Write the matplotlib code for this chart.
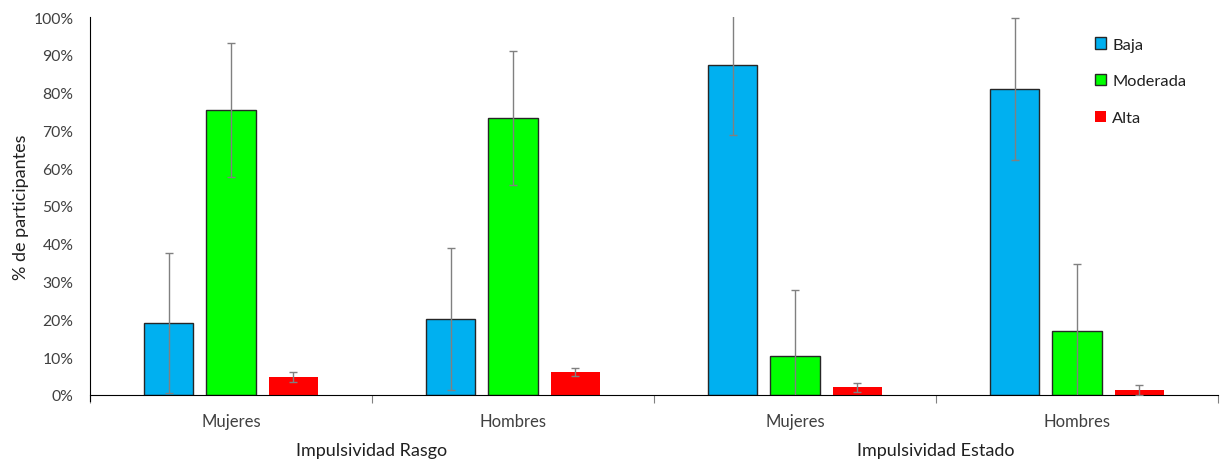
import numpy as np
import matplotlib.pyplot as plt

plt.rcParams['font.family'] = ['Lato', 'DejaVu Sans']

# groups along the x axis
groups = ["Mujeres", "Hombres", "Mujeres", "Hombres"]
blocks = ["Impulsividad Rasgo", "Impulsividad Estado"]
levels = ["Baja", "Moderada", "Alta"]

# percentages per level and their error (SD)
baja = [19.0, 20.1, 87.4, 81.0]
moderada = [75.4, 73.3, 10.3, 17.0]
alta = [4.8, 6.1, 2.0, 1.4]
baja_err = [18.6, 18.8, 18.6, 18.8]
moderada_err = [17.7, 17.7, 17.5, 17.6]
alta_err = [1.3, 1.1, 1.3, 1.3]

colors = ['#00B0F0', '#00FF00', '#FF0000']
edges = ['#262626', '#262626', 'none']

fig = plt.figure(figsize=(12.2, 4.6), dpi=100)
ax = fig.add_axes([90 / 1220, 64 / 460, 1128 / 1220, 378 / 460])

x = np.arange(len(groups))
width = 0.174
offset = 0.22

series = [(baja, baja_err), (moderada, moderada_err), (alta, alta_err)]
for i, (vals, errs) in enumerate(series):
    pos = x + (i - 1) * offset
    ax.bar(pos, vals, width, color=colors[i], edgecolor=edges[i],
           linewidth=1.0, label=levels[i], zorder=2)
    ax.errorbar(pos, vals, yerr=errs, fmt='none', ecolor='#808080',
                elinewidth=1.0, capsize=3, capthick=1.0, zorder=3)

# === AXES ===
ax.set_ylim(0, 100)
ax.set_xlim(-0.5, 3.5)
ax.set_yticks(np.arange(0, 101, 10))
ax.set_yticklabels([f"{v}%" for v in range(0, 101, 10)], fontsize=11.3,
                   color='#404040')
ax.tick_params(axis='y', length=0, pad=12)

ax.set_xticks(np.arange(-0.5, 4, 1))
ax.set_xticklabels([])
ax.tick_params(axis='x', which='major', length=6, color='#808080')
ax.set_xticks(x, minor=True)
ax.set_xticklabels(groups, minor=True, fontsize=12, color='#404040')
ax.tick_params(axis='x', which='minor', length=0, pad=13)

for k, name in enumerate(blocks):
    ax.text(0.5 + 2 * k, -0.145, name, transform=ax.get_xaxis_transform(),
            ha='center', va='center', fontsize=13, color='#202020')

ax.set_ylabel("% de participantes", fontsize=13, color='#202020')
ax.yaxis.set_label_coords(-0.054, 0.5)

for side in ['top', 'right']:
    ax.spines[side].set_visible(False)
ax.spines['left'].set_color('#000000')
ax.spines['bottom'].set_color('#000000')
ax.spines['left'].set_bounds(-1.5, 100)

ax.legend(loc='upper right', bbox_to_anchor=(0.985, 0.985), frameon=False,
          fontsize=11.8, handlelength=0.7, handleheight=0.7,
          labelspacing=1.35, handletextpad=0.35, labelcolor='#202020')

fig.savefig("out.png", dpi=100)
